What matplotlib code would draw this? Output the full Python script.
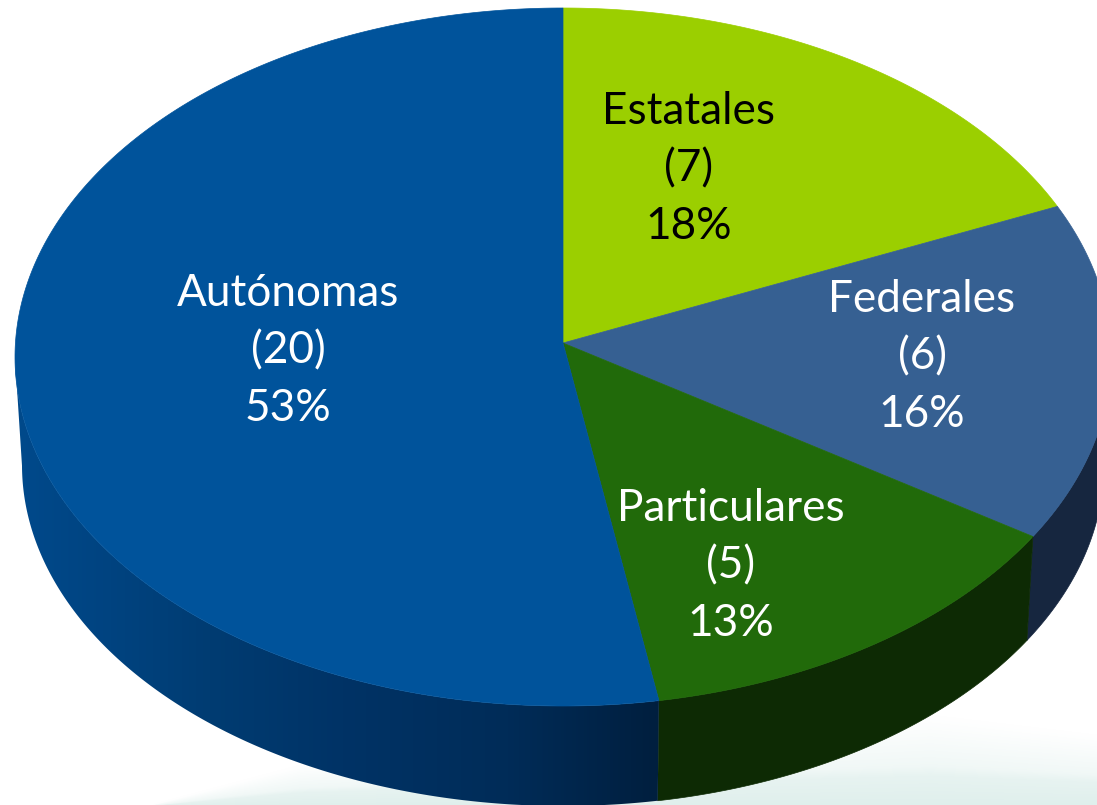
import numpy as np
import matplotlib
matplotlib.use("Agg")
import matplotlib.pyplot as plt
from matplotlib.colors import LinearSegmentedColormap, to_rgb
from matplotlib.patches import Polygon

categories = ["Estatales", "Federales", "Particulares", "Autónomas"]
counts = [7, 6, 5, 20]
percents = [18, 16, 13, 53]
# wedge shares as measured on the drawn slices
shares = [17.9, 15.7, 13.6, 52.8]
top_colors = ["#9BCF00", "#366092", "#216A0A", "#00539B"]
side_colors = ["#5f7f00", "#16263F", "#0D2A04", None]
text_colors = ["black", "white", "white", "white"]
label_xy = [(689, 169), (922, 357), (731, 566), (288, 351)]

W, H = 1097, 805
fig = plt.figure(figsize=(W / 100, H / 100), dpi=100, facecolor="white")
ax = fig.add_axes([0, 0, 1, 1])

# faint wave backdrop at the bottom
yy, xx = np.mgrid[0:H, 0:W]
ytop = np.interp(xx, [150, 300, 930, 1097], [805, 765, 715, 735])
a = np.clip((yy - ytop) / (806 - ytop), 0, 1)
a = np.interp(a, [0, 0.55, 0.66, 1], [0, 0.45, 0.75, 1])
wave_rgb = np.array(to_rgb("#DFEFEC"))
bg = 1 - a[..., None] * (1 - wave_rgb)
ax.imshow(bg, extent=(0, W, H, 0), aspect="auto", interpolation="bilinear", zorder=1)

ax.set_xlim(0, W)
ax.set_ylim(H, 0)
ax.axis("off")

# ellipse geometry in pixels (perspective: apex above ellipse centre)
cx, cy, rx, ry = 563, 357, 548, 349
bx, by, brx, bry = 563, 465, 541, 341
apex = (563, 343)


def top_pt(t):
    return np.c_[cx + rx * np.cos(t), cy - ry * np.sin(t)]


def bot_pt(t):
    return np.c_[bx + brx * np.cos(t), by - bry * np.sin(t)]


fracs = np.array(shares) / sum(shares)
edges = np.pi / 2 - 2 * np.pi * np.r_[0, np.cumsum(fracs)]

blue_side = LinearSegmentedColormap.from_list(
    "blue_side", [(0, "#004A8C"), (0.15, "#004380"), (0.3, "#003C72"),
                  (0.5, "#003366"), (0.75, "#002C58"), (0.97, "#001F3F"), (1, "#001F3F")])

# side walls: only the front half of the ellipse
for i in range(len(counts)):
    t0, t1 = edges[i], edges[i + 1]
    ts = np.linspace(t0, t1, 600)
    ts = ts[np.sin(ts) <= 0]
    if ts.size < 2:
        continue
    wall = np.vstack([top_pt(ts), bot_pt(ts[::-1])])
    if side_colors[i] is None:
        grad = np.linspace(0, 1, 512)[None, :]
        im = ax.imshow(grad, cmap=blue_side, extent=(10, 675, H, 0), aspect="auto",
                       interpolation="bilinear", zorder=2)
        patch = Polygon(wall, fc="none", ec="none", transform=ax.transData)
        ax.add_patch(patch)
        im.set_clip_path(patch)
    else:
        ax.add_patch(Polygon(wall, fc=side_colors[i], ec=side_colors[i], lw=0.5, zorder=2))
ax.set_xlim(0, W)
ax.set_ylim(H, 0)

# top faces
for i in range(len(counts)):
    ts = np.linspace(edges[i], edges[i + 1], 300)
    pts = np.vstack([[apex], top_pt(ts)])
    ax.add_patch(Polygon(pts, fc=top_colors[i], ec=top_colors[i], lw=0.5, zorder=3))

# labels
for name, n, p, (x, y), c in zip(categories, counts, percents, label_xy, text_colors):
    ax.text(x, y, f"{name}\n({n})\n{p}%", ha="center", va="center",
            color=c, fontsize=31.8, family="Lato", linespacing=1.49, zorder=4)

fig.savefig("out.png", dpi=100)
